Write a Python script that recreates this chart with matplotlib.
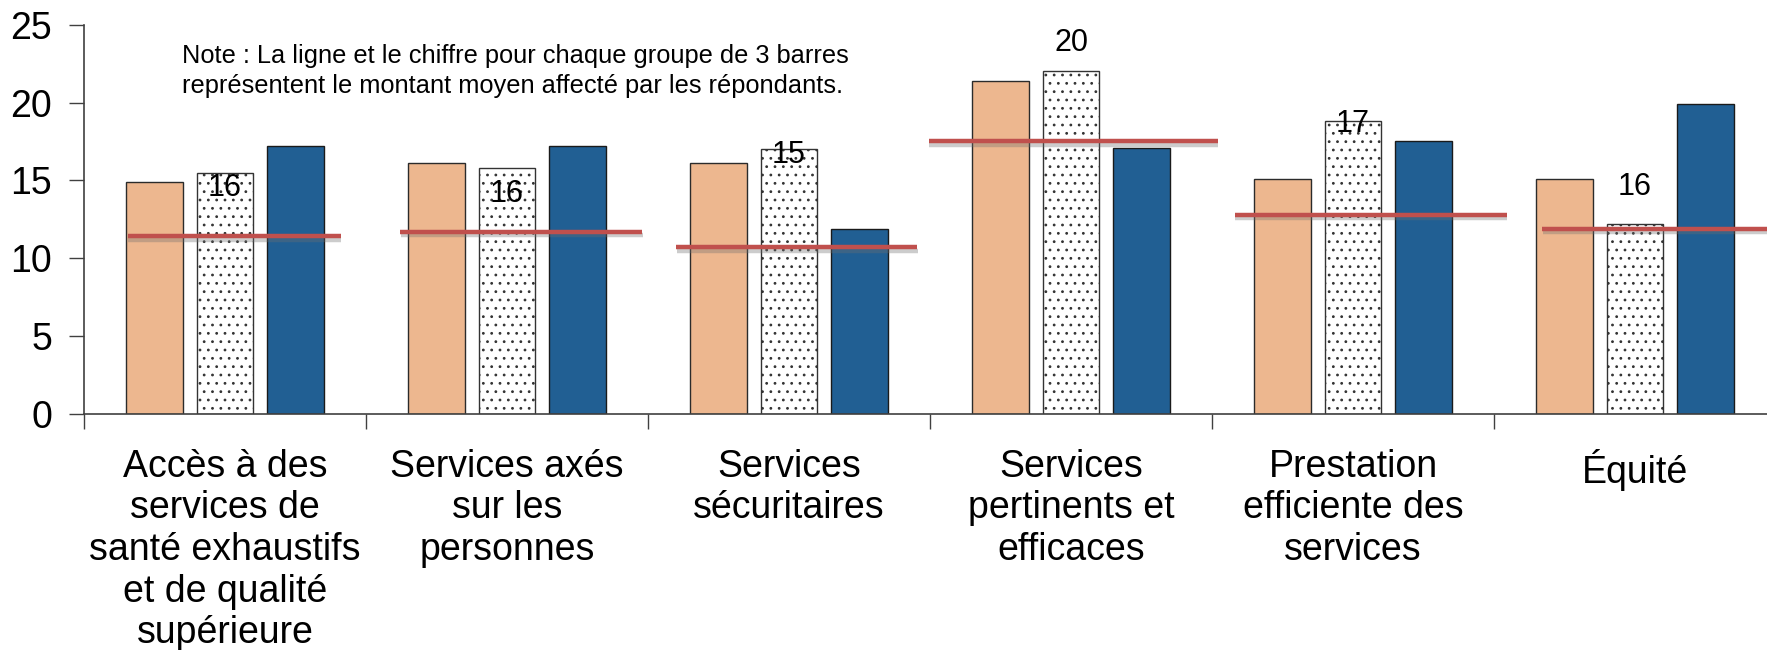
import numpy as np
import matplotlib
matplotlib.use("Agg")
import matplotlib.pyplot as plt
import matplotlib.patheffects as pe

plt.rcParams['font.family'] = ['Liberation Sans', 'DejaVu Sans']
plt.rcParams['hatch.linewidth'] = 0.8

# Données du graphique
categories = [
    "Accès à des\nservices de\nsanté exhaustifs\net de qualité\nsupérieure",
    "Services axés\nsur les\npersonnes",
    "Services\nsécuritaires",
    "Services\npertinents et\nefficaces",
    "Prestation\nefficiente des\nservices",
    "Équité",
]
serie_1 = [14.9, 16.1, 16.1, 21.4, 15.1, 15.1]
serie_2 = [15.5, 15.8, 17.0, 22.0, 18.8, 12.2]
serie_3 = [17.2, 17.2, 11.9, 17.1, 17.5, 19.9]
moyennes = [11.4, 11.7, 10.7, 17.5, 12.8, 11.9]
etiquettes = ["16", "16", "15", "20", "17", "16"]

# placement des étiquettes et étendue des lignes (relatif au centre du groupe)
etiq_y = [14.5, 14.1, 16.65, 23.8, 18.65, 14.6]
ligne_debut = [-0.345, -0.38, -0.40, -0.505, -0.42, -0.33]
ligne_fin = [0.41, 0.48, 0.455, 0.52, 0.545, 0.7]

note = ("Note : La ligne et le chiffre pour chaque groupe de 3 barres\n"
        "représentent le montant moyen affecté par les répondants.")

W, H = 1767, 650
fig = plt.figure(figsize=(W / 100, H / 100), dpi=100)
ax = fig.add_axes([84 / W, 236 / H, 1692 / W, 389.3 / H])

x = np.arange(len(categories))
larg = 0.2
ax.bar(x - 0.25, serie_1, larg, color='#EDB78F', edgecolor='#2b2b2b', linewidth=1.0, zorder=2)
ax.bar(x, serie_2, larg, color='white', edgecolor='#333333', hatch='..', linewidth=1.0, zorder=2)
ax.bar(x + 0.25, serie_3, larg, color='#215F93', edgecolor='#1a1a1a', linewidth=1.0, zorder=2)

# lignes des moyennes
for i in range(len(categories)):
    ax.plot([i + ligne_debut[i], i + ligne_fin[i]], [moyennes[i], moyennes[i]],
            color='#C0504D', linewidth=3.2, solid_capstyle='butt', zorder=4,
            path_effects=[pe.SimpleLineShadow(offset=(0.5, -2.5), shadow_color='#6f6f6f', alpha=0.35),
                          pe.Normal()])
    ax.text(i, etiq_y[i], etiquettes[i], ha='center', va='center', fontsize=22, zorder=5)

ax.set_xlim(-0.5, len(categories) - 0.5)
ax.set_ylim(0, 25)
ax.set_yticks(np.arange(0, 26, 5))
ax.set_xticks(x)
ax.set_xticklabels(categories, fontsize=27, linespacing=1.2)
ax.set_xticks(np.arange(-0.5, len(categories), 1), minor=True)
ax.tick_params(axis='x', which='major', length=0, pad=25)
ax.tick_params(axis='x', which='minor', length=11, width=1, color='#404040', direction='out')
ax.tick_params(axis='y', length=11, width=1, color='#404040', labelsize=27, pad=12, direction='out')

for s in ['top', 'right']:
    ax.spines[s].set_visible(False)
for s in ['left', 'bottom']:
    ax.spines[s].set_color('#404040')
    ax.spines[s].set_linewidth(1.2)

fig.text(182 / W, 1 - 44 / H, note, fontsize=18.3, va='top', ha='left', linespacing=1.34)

plt.savefig("out.png", dpi=100)
plt.close()
